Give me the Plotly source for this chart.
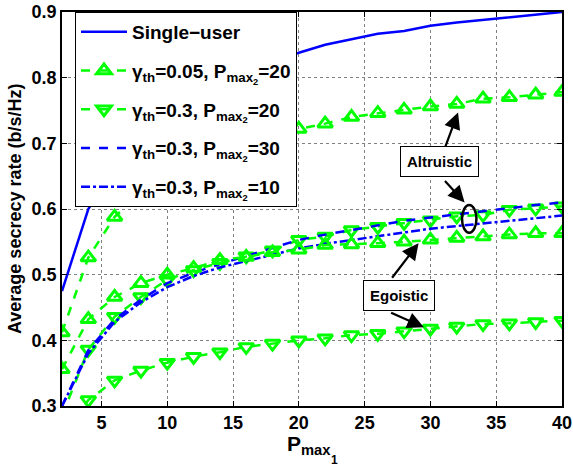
import plotly.graph_objects as go

x = [2, 4, 6, 8, 10, 12, 14, 16, 18, 20, 22, 24, 26, 28, 30, 32, 34, 36, 38, 40]

single_user = [0.475, 0.600, 0.665, 0.710, 0.740, 0.765, 0.785, 0.805, 0.822, 0.838,
               0.850, 0.858, 0.867, 0.871, 0.879, 0.884, 0.888, 0.891, 0.895, 0.900]
alt_g005 = [0.412, 0.526, 0.588, 0.625, 0.650, 0.668, 0.683, 0.697, 0.710, 0.722,
            0.730, 0.740, 0.746, 0.751, 0.756, 0.760, 0.768, 0.770, 0.774, 0.778]
ego_g005 = [0.356, 0.432, 0.466, 0.487, 0.500, 0.510, 0.522, 0.527, 0.534, 0.538,
            0.545, 0.546, 0.548, 0.550, 0.553, 0.556, 0.558, 0.561, 0.563, 0.563]
alt_g03_p20 = [0.285, 0.386, 0.436, 0.466, 0.492, 0.507, 0.518, 0.528, 0.537, 0.553,
               0.558, 0.568, 0.573, 0.579, 0.583, 0.589, 0.591, 0.599, 0.601, 0.604]
ego_g03_p20 = [0.260, 0.309, 0.339, 0.354, 0.366, 0.375, 0.382, 0.390, 0.395, 0.400,
               0.403, 0.408, 0.410, 0.414, 0.418, 0.421, 0.425, 0.426, 0.428, 0.430]
g03_p30 = [0.300, 0.385, 0.432, 0.462, 0.487, 0.503, 0.516, 0.528, 0.540, 0.553,
           0.561, 0.568, 0.575, 0.582, 0.587, 0.592, 0.597, 0.601, 0.606, 0.610]
g03_p10 = [0.300, 0.380, 0.428, 0.458, 0.481, 0.498, 0.511, 0.521, 0.531, 0.540,
           0.547, 0.553, 0.559, 0.565, 0.570, 0.574, 0.578, 0.582, 0.586, 0.590]

x_ticks = [5, 10, 15, 20, 25, 30, 35, 40]
y_ticks = [0.3, 0.4, 0.5, 0.6, 0.7, 0.8, 0.9]

BLUE = "#0000FF"
GREEN = "#00FF00"
FONT = "Liberation Sans"

fig = go.Figure()

fig.add_trace(go.Scatter(x=x, y=single_user, mode="lines", name="Single\u2212user",
                         legendgroup="a", line=dict(color=BLUE, width=2.5)))

tri_marker_up = dict(symbol="triangle-up-open", size=13, color=GREEN, line=dict(width=3, color=GREEN))
tri_marker_dn = dict(symbol="triangle-down-open", size=13, color=GREEN, line=dict(width=3, color=GREEN))

fig.add_trace(go.Scatter(x=x, y=alt_g005, mode="lines+markers", legendgroup="b",
                         name="\u03b3<sub>th</sub>=0.05, P<sub>max<sub>2</sub></sub>=20",
                         line=dict(color=GREEN, width=2.5, dash="dash"), marker=tri_marker_up))
fig.add_trace(go.Scatter(x=x, y=alt_g03_p20, mode="lines+markers", legendgroup="c",
                         name="\u03b3<sub>th</sub>=0.3, P<sub>max<sub>2</sub></sub>=20",
                         line=dict(color=GREEN, width=2.5, dash="dash"), marker=tri_marker_dn))
fig.add_trace(go.Scatter(x=x, y=g03_p30, mode="lines", legendgroup="d",
                         name="\u03b3<sub>th</sub>=0.3, P<sub>max<sub>2</sub></sub>=30",
                         line=dict(color=BLUE, width=2.5, dash="dash")))
fig.add_trace(go.Scatter(x=x, y=g03_p10, mode="lines", legendgroup="e",
                         name="\u03b3<sub>th</sub>=0.3, P<sub>max<sub>2</sub></sub>=10",
                         line=dict(color=BLUE, width=2.5, dash="dashdot")))
fig.add_trace(go.Scatter(x=x, y=ego_g005, mode="lines+markers", showlegend=False,
                         line=dict(color=GREEN, width=2.5, dash="dash"), marker=tri_marker_up))
fig.add_trace(go.Scatter(x=x, y=ego_g03_p20, mode="lines+markers", showlegend=False,
                         line=dict(color=GREEN, width=2.5, dash="dash"), marker=tri_marker_dn))

arrow = dict(showarrow=True, arrowhead=2, arrowsize=1.5, arrowwidth=2.2, arrowcolor="black",
             axref="x", ayref="y", text="")
box_font = dict(size=15, color="black", family=FONT, weight="bold")
annotations = [
    dict(x=30.7, y=0.672, text="Altruistic", showarrow=False, bgcolor="white",
         bordercolor="black", borderwidth=1, borderpad=6, font=box_font),
    dict(x=27.6, y=0.469, text="Egoistic", showarrow=False, bgcolor="white",
         bordercolor="black", borderwidth=1, borderpad=6, font=box_font),
    dict(x=32.1, y=0.747, ax=31.1, ay=0.693, **arrow),
    dict(x=32.6, y=0.610, ax=31.0, ay=0.645, **arrow),
    dict(x=29.1, y=0.548, ax=27.0, ay=0.493, **arrow),
    dict(x=29.5, y=0.420, ax=26.9, ay=0.443, **arrow),
    # axis titles
    dict(xref="paper", yref="paper", x=0, y=0.5, xshift=-47, textangle=-90,
         text="Average secrecy rate (b/s/Hz)", showarrow=False, xanchor="center", yanchor="middle",
         font=dict(size=18, color="black", family=FONT, weight="bold")),
    dict(xref="paper", yref="paper", x=0.5, y=0, yshift=-24, xshift=-3,
         text="P<sub>max</sub>", showarrow=False, xanchor="center", yanchor="top",
         font=dict(size=21, color="black", family=FONT, weight="bold")),
    dict(xref="paper", yref="paper", x=0.5, y=0, yshift=-45, xshift=22,
         text="1", showarrow=False, xanchor="center", yanchor="top",
         font=dict(size=12, color="black", family=FONT, weight="bold")),
]

fig.add_shape(type="circle", xref="x", yref="y", x0=32.4, x1=33.5, y0=0.564, y1=0.606,
              line=dict(color="black", width=2.5))

axis_common = dict(showgrid=True, gridcolor="#808080", griddash="dot", gridwidth=1,
                   showline=True, linecolor="black", linewidth=1.5, mirror="ticks",
                   ticks="inside", ticklen=5, tickcolor="black", zeroline=False, automargin=False,
                   tickfont=dict(size=18, family=FONT, color="black", weight="bold"))

fig.update_layout(
    width=573, height=464,
    margin=dict(l=62, r=11, t=12, b=58),
    paper_bgcolor="white", plot_bgcolor="white",
    font=dict(family=FONT, color="black", weight="bold"),
    xaxis=dict(range=[2, 40], tickvals=x_ticks, **axis_common),
    yaxis=dict(range=[0.3, 0.9], tickvals=y_ticks, tickformat=".1f", **axis_common),
    legend=dict(x=0.026, y=1, xanchor="left", yanchor="top", bgcolor="white",
                bordercolor="black", borderwidth=1, tracegroupgap=11, itemwidth=46,
                font=dict(size=19, family=FONT, color="black", weight="bold")),
    annotations=annotations,
    showlegend=True,
)

fig.write_html("out.html", config={"displayModeBar": False},
               post_script="document.body.style.margin='0';document.body.style.overflow='hidden';")
